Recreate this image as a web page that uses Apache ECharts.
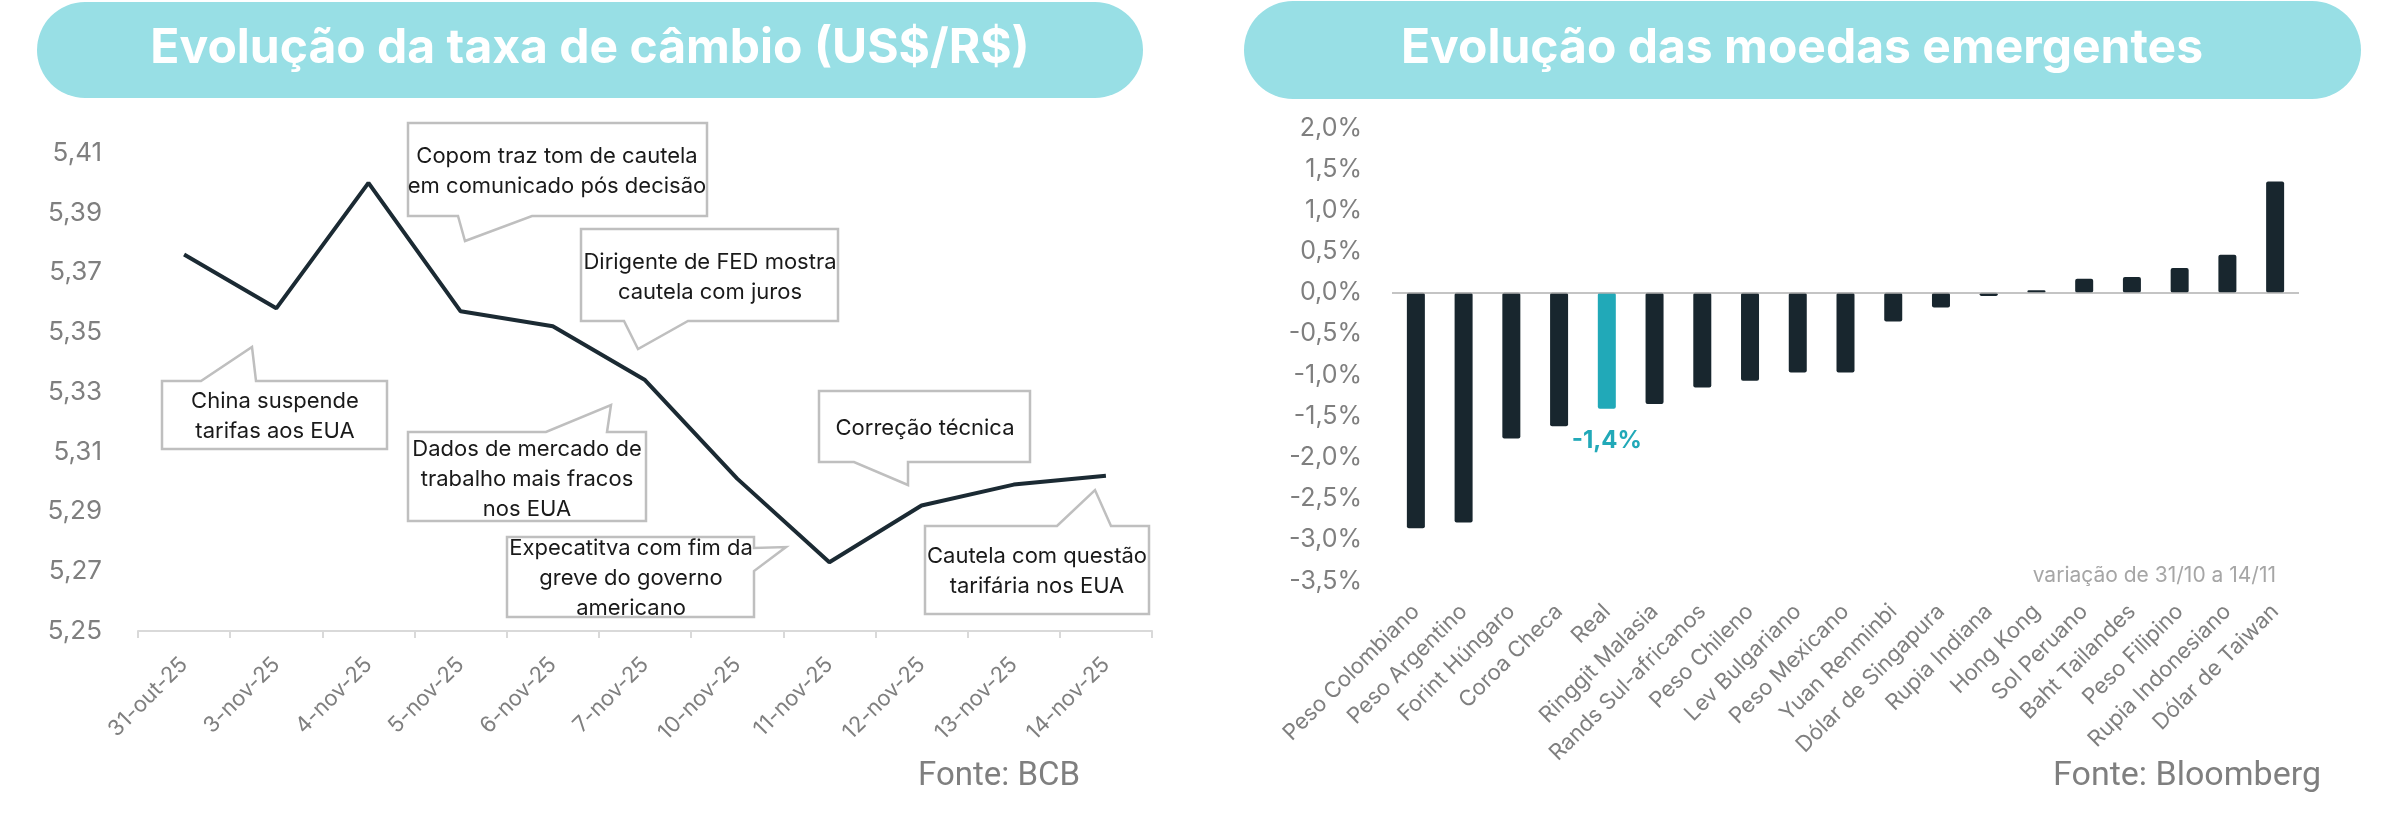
<!DOCTYPE html>
<html>
<head>
<meta charset="utf-8">
<title>Câmbio e moedas emergentes</title>
<script src="https://cdn.jsdelivr.net/npm/echarts@6/dist/echarts.min.js"></script>
<style>
  html, body { margin: 0; padding: 0; background: #fff; }
  #chart { width: 2392px; height: 838px; }
</style>
</head>
<body>
<div id="chart"></div>
<script>
// taxa de câmbio (US$/R$)
var datas = ['31-out-25', '3-nov-25', '4-nov-25', '5-nov-25', '6-nov-25', '7-nov-25', '10-nov-25', '11-nov-25', '12-nov-25', '13-nov-25', '14-nov-25'];
var cambio = [5.376, 5.358, 5.400, 5.357, 5.352, 5.334, 5.301, 5.273, 5.292, 5.299, 5.302];

// moedas emergentes - variação de 31/10 a 14/11 (%)
var moedas = ['Peso Colombiano', 'Peso Argentino', 'Forint Húngaro', 'Coroa Checa', 'Real', 'Ringgit Malasia',
  'Rands Sul-africanos', 'Peso Chileno', 'Lev Bulgariano', 'Peso Mexicano', 'Yuan Renminbi', 'Dólar de Singapura',
  'Rupia Indiana', 'Hong Kong', 'Sol Peruano', 'Baht Tailandes', 'Peso Filipino', 'Rupia Indonesiano', 'Dólar de Taiwan'];
var variacao = [-2.86, -2.79, -1.77, -1.62, -1.41, -1.35, -1.15, -1.07, -0.97, -0.97, -0.35, -0.18,
  -0.04, 0.03, 0.17, 0.19, 0.30, 0.46, 1.35];
var destaque = 'Real';

// textos dos balões
var eventos = [
  ['Copom traz tom de cautela', 'em comunicado pós decisão'],
  ['China suspende', 'tarifas aos EUA'],
  ['Dirigente de FED mostra', 'cautela com juros'],
  ['Dados de mercado de', 'trabalho mais fracos', 'nos EUA'],
  ['Expecatitva com fim da', 'greve do governo', 'americano'],
  ['Correção técnica'],
  ['Cautela com questão', 'tarifária nos EUA']
];

var FONT = 'Inter, "Noto Sans", sans-serif';
var escuro = '#18262e';
var turquesa = '#21a9b8';
var cinza = '#7f7f7f';

// contorno de cada balão (caixa + ponta) e centro do texto
var baloes = [
  { pts: [[408, 123], [707, 123], [707, 216], [532, 216], [465, 241], [458, 216], [408, 216]], c: [557, 171] },
  { pts: [[162, 381], [201, 381], [252, 347], [256, 381], [387, 381], [387, 449], [162, 449]], c: [275, 416] },
  { pts: [[581, 229], [838, 229], [838, 321], [688, 321], [638, 349], [624, 321], [581, 321]], c: [710, 277] },
  { pts: [[408, 432], [546, 432], [611, 405], [607, 432], [646, 432], [646, 521], [408, 521]], c: [527, 479] },
  { pts: [[507, 537], [754, 537], [754, 548], [786, 547], [754, 571], [754, 617], [507, 617]], c: [631, 578] },
  { pts: [[819, 391], [1030, 391], [1030, 462], [908, 462], [908, 485], [854, 462], [819, 462]], c: [925, 428] },
  { pts: [[925, 526], [1057, 526], [1095, 490], [1111, 526], [1149, 526], [1149, 614], [925, 614]], c: [1037, 571] }
];

function virgula(v, casas) {
  return v.toFixed(casas).replace('.', ',');
}

var chart = echarts.init(document.getElementById('chart'));

var graficos = [
  // faixas de título
  { type: 'rect', shape: { x: 37, y: 2, width: 1106, height: 96, r: 48 }, style: { fill: '#98dfe5' } },
  { type: 'rect', shape: { x: 1244, y: 1, width: 1117, height: 98, r: 49 }, style: { fill: '#98dfe5' } },
  { type: 'text', x: 590, y: 49, style: { text: 'Evolução da taxa de câmbio (US$/R$)', fill: '#fff', font: 'bold 48px ' + FONT, align: 'center', verticalAlign: 'middle' } },
  { type: 'text', x: 1802, y: 49, style: { text: 'Evolução das moedas emergentes', fill: '#fff', font: 'bold 48px ' + FONT, align: 'center', verticalAlign: 'middle' } },
  // fontes e nota
  { type: 'text', x: 1080, y: 777, style: { text: 'Fonte: BCB', fill: cinza, font: '33px Roboto, sans-serif', align: 'right', verticalAlign: 'middle' } },
  { type: 'text', x: 2321, y: 776, style: { text: 'Fonte: Bloomberg', fill: cinza, font: '34px Roboto, sans-serif', align: 'right', verticalAlign: 'middle' } },
  { type: 'text', x: 2276, y: 576, style: { text: 'variação de 31/10 a 14/11', fill: '#a6a6a6', font: '21px ' + FONT, align: 'right', verticalAlign: 'middle' } }
];

baloes.forEach(function (b, i) {
  graficos.push({
    type: 'polygon', z: 10,
    shape: { points: b.pts },
    style: { fill: '#fff', stroke: '#bfbfbf', lineWidth: 2.5 }
  });
  graficos.push({
    type: 'text', z: 11, x: b.c[0], y: b.c[1],
    style: { text: eventos[i].join('\n'), fill: '#1a1a1a', font: '22px ' + FONT, lineHeight: 30, align: 'center', verticalAlign: 'middle' }
  });
});

var option = {
  animation: false,
  graphic: { elements: graficos },
  grid: [
    { left: 138, top: 153, width: 1014, height: 478, containLabel: false, outerBoundsMode: 'none' },
    { left: 1392, top: 128, width: 907, height: 453, containLabel: false, outerBoundsMode: 'none' }
  ],
  xAxis: [
    {
      type: 'category', gridIndex: 0, data: datas, boundaryGap: true,
      axisLine: { show: true, lineStyle: { color: '#d9d9d9', width: 2 } },
      axisTick: { show: true, length: 7, lineStyle: { color: '#d9d9d9', width: 2 } },
      axisLabel: { interval: 0, rotate: 45, margin: 30, color: cinza, fontSize: 22, fontFamily: FONT, hideOverlap: false },
      splitLine: { show: false }
    },
    {
      type: 'category', gridIndex: 1, data: moedas, boundaryGap: true,
      axisLine: { show: false, onZero: false },
      axisTick: { show: false },
      axisLabel: { interval: 0, rotate: 45, margin: 27, color: cinza, fontSize: 22, fontFamily: FONT, hideOverlap: false },
      splitLine: { show: false }
    }
  ],
  yAxis: [
    {
      type: 'value', gridIndex: 0, min: 5.25, max: 5.41, interval: 0.01,
      axisLine: { show: false }, axisTick: { show: false }, splitLine: { show: false },
      axisLabel: {
        margin: 36, color: cinza, fontSize: 26, fontFamily: FONT,
        formatter: function (v) {
          // só um rótulo a cada 0,02
          return Math.round(v * 100) % 2 === 1 ? virgula(v, 2) : '';
        }
      }
    },
    {
      type: 'value', gridIndex: 1, min: -3.5, max: 2, interval: 0.5,
      axisLine: { show: false }, axisTick: { show: false }, splitLine: { show: false },
      axisLabel: {
        margin: 30, color: cinza, fontSize: 25, fontFamily: FONT,
        formatter: function (v) { return virgula(v, 1) + '%'; }
      }
    }
  ],
  series: [
    {
      type: 'line', xAxisIndex: 0, yAxisIndex: 0, data: cambio,
      symbol: 'none', smooth: false,
      lineStyle: { color: '#1b2a33', width: 4 }
    },
    {
      type: 'bar', xAxisIndex: 1, yAxisIndex: 1, barWidth: 18,
      data: variacao.map(function (v, i) {
        if (moedas[i] !== destaque) return v;
        return {
          value: v,
          itemStyle: { color: turquesa },
          label: {
            show: true, position: 'bottom', distance: 20,
            color: turquesa, fontSize: 24, fontWeight: 'bold', fontFamily: FONT,
            formatter: function (p) { return virgula(Math.round(p.value * 10) / 10, 1) + '%'; }
          }
        };
      }),
      itemStyle: { color: escuro, borderRadius: 2 },
      markLine: {
        silent: true, symbol: 'none', label: { show: false },
        lineStyle: { color: '#b0b0b0', width: 1.5, type: 'solid' },
        data: [{ yAxis: 0 }]
      }
    }
  ]
};

chart.setOption(option);
</script>
</body>
</html>
